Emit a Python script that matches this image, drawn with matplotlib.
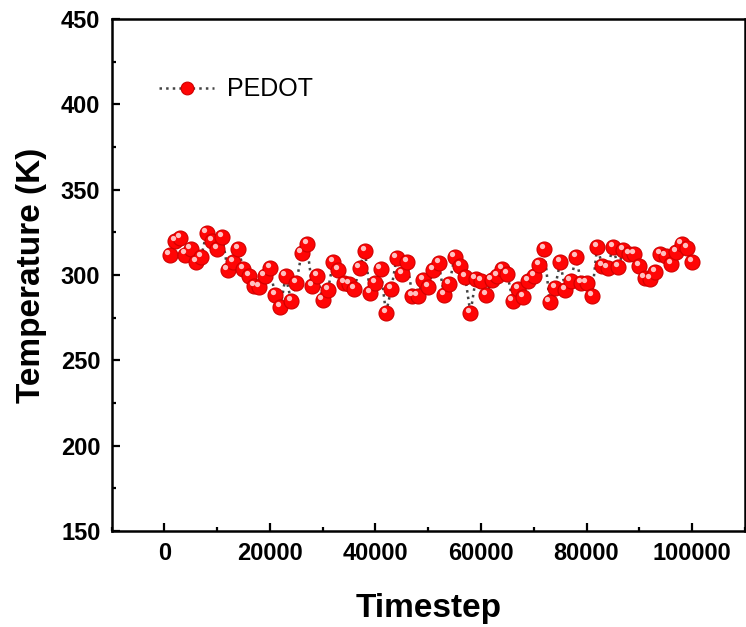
import numpy as np
import matplotlib
matplotlib.use("Agg")
import matplotlib.pyplot as plt
import matplotlib.transforms as mtransforms
from matplotlib.ticker import MultipleLocator

plt.rcParams['font.family'] = ['Liberation Sans', 'DejaVu Sans']

# timestep every 1000, temperature
timestep = np.arange(1000, 100001, 1000)
temperature = [
    311.7, 319.9, 321.9, 312.0, 315.0, 307.8, 310.7, 324.8, 319.9, 315.0,
    322.4, 302.9, 307.8, 315.2, 303.5, 299.6, 293.7, 293.1, 299.6, 303.9,
    288.1, 281.0, 299.6, 285.0, 295.1, 312.7, 318.0, 293.5, 299.4, 285.3,
    291.2, 307.8, 302.9, 295.1, 294.7, 291.8, 304.3, 314.2, 289.3, 295.1,
    303.3, 277.6, 291.8, 309.8, 300.6, 307.8, 287.7, 287.7, 297.1, 293.1,
    302.9, 306.8, 288.3, 294.5, 310.7, 305.4, 299.0, 277.5, 297.7, 296.7,
    288.3, 296.8, 299.4, 303.5, 300.6, 285.0, 291.8, 287.3, 296.7, 299.6,
    305.9, 315.2, 284.0, 292.2, 307.4, 291.2, 296.5, 310.7, 295.1, 295.1,
    287.7, 316.6, 305.4, 304.3, 316.6, 304.5, 314.6, 312.1, 312.1, 305.3,
    298.4, 297.7, 302.0, 312.1, 311.1, 306.2, 313.3, 318.0, 315.6, 307.8,
]

fig = plt.figure(figsize=(7.46, 6.27), dpi=100)
ax = fig.add_axes([0.1495, 0.1531, 0.849, 0.8166])

ax.plot(timestep, temperature, linestyle=':', color='#444444', linewidth=1.8,
        marker='o', markersize=10.8, markerfacecolor='#ff0505',
        markeredgecolor='#d00000', markeredgewidth=0.8, label='PEDOT')
# small highlight on each ball
hl = mtransforms.offset_copy(ax.transData, fig=fig, x=-1.6, y=2.2, units='points')
ax.plot(timestep, temperature, linestyle='none', marker='o', markersize=3.8,
        markerfacecolor='#ffc0c0', markeredgecolor='none', transform=hl)

ax.set_xlim(-10000, 110000)
ax.set_ylim(150, 450)
ax.xaxis.set_major_locator(MultipleLocator(20000))
ax.xaxis.set_minor_locator(MultipleLocator(10000))
ax.yaxis.set_major_locator(MultipleLocator(50))
ax.yaxis.set_minor_locator(MultipleLocator(25))
ax.set_xticks(np.arange(0, 100001, 20000))

ax.tick_params(which='both', direction='in', top=False, right=False, width=1.6)
ax.tick_params(which='major', length=6, labelsize=17, pad=8)
ax.tick_params(which='minor', length=3)
for lab in ax.get_xticklabels() + ax.get_yticklabels():
    lab.set_fontweight('bold')
for sp in ax.spines.values():
    sp.set_linewidth(1.8)

ax.set_xlabel('Timestep', fontsize=24, fontweight='bold', labelpad=20)
ax.set_ylabel('Temperature (K)', fontsize=24, fontweight='bold', labelpad=10)

ax.legend(loc='upper left', bbox_to_anchor=(0.04, 0.93), frameon=False,
          fontsize=18, handlelength=2.2, handletextpad=0.5, markerscale=0.85)

fig.savefig('out.png', dpi=100)
